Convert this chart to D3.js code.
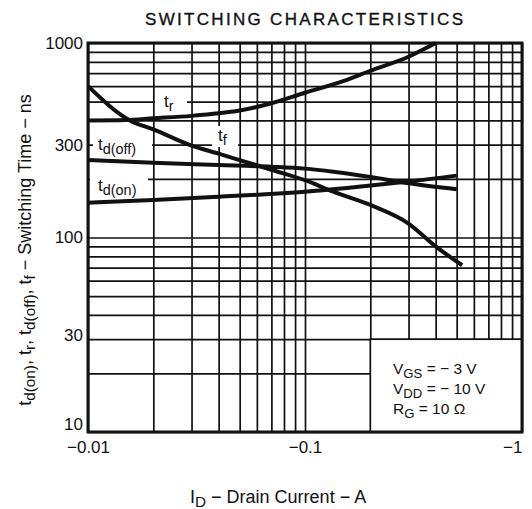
<!DOCTYPE html>
<html lang="en">
<head>
<meta charset="UTF-8">
<title>Switching Characteristics</title>
<script src="https://d3js.org/d3.v7.min.js"></script>
<style>
  body { margin: 0; background: #fff; }
  text { font-family: "Liberation Sans", Arial, sans-serif; fill: #111; }
</style>
</head>
<body>
<div id="chart"></div>
<script>
// tick labels
const xTickValues = [0.01, 0.1, 1];
const xTickLabels = ["\u22120.01", "\u22120.1", "\u22121"];
const yTickValues = [10, 30, 100, 300, 1000];
const yTickLabels = ["10", "30", "100", "300", "1000"];

// curves: [drain current (A), switching time (ns)]
const tRise = [[0.01, 400], [0.015, 402], [0.02, 410], [0.03, 422], [0.04, 435], [0.05, 450],
  [0.07, 490], [0.1, 555], [0.15, 637], [0.2, 720], [0.3, 850], [0.4, 1000]];
const tFall = [[0.01, 600], [0.0156, 400], [0.02, 360], [0.03, 297], [0.04, 270], [0.05, 250],
  [0.07, 223], [0.1, 197], [0.135, 172], [0.2, 147], [0.3, 118], [0.4, 90], [0.53, 72]];
const tdOff = [[0.01, 250], [0.02, 242], [0.04, 236], [0.07, 231], [0.1, 226], [0.135, 218],
  [0.2, 205], [0.3, 190], [0.5, 177]];
const tdOn = [[0.01, 151], [0.02, 156], [0.04, 162], [0.1, 172], [0.2, 185], [0.3, 194], [0.5, 208]];

// test conditions
const conditions = [
  [["V", 0], ["GS", 1], [" = \u2212 3 V", 0]],
  [["V", 0], ["DD", 1], [" = \u2212 10 V", 0]],
  [["R", 0], ["G", 1], [" = 10 \u03A9", 0]]
];

const W = 532, H = 509;
const pLeft = 88, pRight = 522, pTop = 43, pBottom = 432;

const svg = d3.select("#chart").append("svg")
  .attr("width", W).attr("height", H);

const x = d3.scaleLog().domain([0.01, 1]).range([pLeft, pRight]);
const y = d3.scaleLog().domain([10, 1000]).range([pBottom, pTop]);

// full log grid values
const xGrid = [];
[0.01, 0.1].forEach(d => d3.range(1, 10).forEach(k => xGrid.push(+(k * d).toPrecision(3))));
xGrid.push(1);
const yGrid = [];
[10, 100].forEach(d => d3.range(1, 10).forEach(k => yGrid.push(k * d)));
yGrid.push(1000);

const xAxis = d3.axisBottom(x)
  .tickValues(xGrid)
  .tickSize(-(pBottom - pTop))
  .tickPadding(9)
  .tickFormat(d => {
    const i = xTickValues.findIndex(v => Math.abs(v - d) < 1e-9);
    return i >= 0 ? xTickLabels[i] : "";
  });

const yAxis = d3.axisLeft(y)
  .tickValues(yGrid)
  .tickSize(-(pRight - pLeft))
  .tickPadding(5)
  .tickFormat(d => {
    const i = yTickValues.indexOf(d);
    return i >= 0 ? yTickLabels[i] : "";
  });

const gx = svg.append("g")
  .attr("transform", `translate(0,${pBottom})`)
  .call(xAxis);
const gy = svg.append("g")
  .attr("transform", `translate(${pLeft},0)`)
  .call(yAxis);

[gx, gy].forEach(g => {
  g.select(".domain").remove();
  g.selectAll(".tick line").attr("stroke", "#111").attr("stroke-width", 1.7);
  g.selectAll(".tick text").attr("font-size", 17).attr("fill", "#111");
});
gx.selectAll(".tick text").filter(d => d === 1)
  .attr("text-anchor", "end").attr("x", 0);
// bottom label sits a little higher, clear of the x labels
gy.selectAll(".tick text").filter(d => d === 10).attr("y", -8);
gy.selectAll(".tick text").filter(d => d === 30).attr("y", -4);

// box for test conditions hides the grid
svg.append("rect")
  .attr("x", x(0.2)).attr("y", y(30))
  .attr("width", x(1) - x(0.2)).attr("height", y(10) - y(30))
  .attr("fill", "#fff").attr("stroke", "#111").attr("stroke-width", 1.7);

// white patches behind curve labels
const patches = [[155, 93, 32, 16], [212, 126, 26, 21], [93, 137, 59, 18], [90, 177, 58, 20]];
svg.selectAll("rect.patch").data(patches).join("rect")
  .attr("class", "patch")
  .attr("x", d => d[0]).attr("y", d => d[1])
  .attr("width", d => d[2]).attr("height", d => d[3])
  .attr("fill", "#fff");

const line = d3.line()
  .x(d => x(d[0]))
  .y(d => y(d[1]))
  .curve(d3.curveMonotoneX);

svg.selectAll("path.curve").data([tRise, tFall, tdOff, tdOn]).join("path")
  .attr("class", "curve")
  .attr("d", line)
  .attr("fill", "none")
  .attr("stroke", "#111")
  .attr("stroke-width", 4);

// text with subscripts
function richText(g, parts, size) {
  const t = g.append("text").attr("font-size", size);
  let sub = 0;
  parts.forEach(([s, isSub]) => {
    const shift = isSub ? 4 : 0;
    t.append("tspan")
      .attr("dy", shift - sub)
      .attr("font-size", isSub ? size * 0.85 : size)
      .text(s);
    sub = shift;
  });
  return t;
}

const curveLabels = [
  [164, 107, [["t", 0], ["r", 1]]],
  [218, 141, [["t", 0], ["f", 1]]],
  [98, 150, [["t", 0], ["d(off)", 1]]],
  [98, 191, [["t", 0], ["d(on)", 1]]]
];
curveLabels.forEach(([lx, ly, parts]) => {
  richText(svg.append("g").attr("transform", `translate(${lx},${ly})`), parts, 17);
});

conditions.forEach((parts, i) => {
  richText(svg.append("g").attr("transform", `translate(393,${374 + i * 20})`), parts, 15.5);
});

// frame
svg.append("rect")
  .attr("x", pLeft).attr("y", pTop)
  .attr("width", pRight - pLeft).attr("height", pBottom - pTop)
  .attr("fill", "none").attr("stroke", "#111").attr("stroke-width", 3);

// titles
svg.append("text")
  .attr("x", 145).attr("y", 25)
  .attr("font-size", 17)
  .attr("stroke", "#111").attr("stroke-width", 0.35)
  .attr("textLength", 318)
  .attr("lengthAdjust", "spacing")
  .text("SWITCHING CHARACTERISTICS");

richText(svg.append("g").attr("transform", "translate(190,503)"),
  [["I", 0], ["D", 1], [" \u2212 Drain Current \u2212 A", 0]], 18);

richText(svg.append("g").attr("transform", "translate(31,250) rotate(-90)"),
  [["t", 0], ["d(on)", 1], [", t", 0], ["r", 1], [", t", 0], ["d(off)", 1], [", t", 0], ["f", 1],
   [" \u2212 Switching Time \u2212 ns", 0]], 18)
  .attr("text-anchor", "middle");
</script>
</body>
</html>
